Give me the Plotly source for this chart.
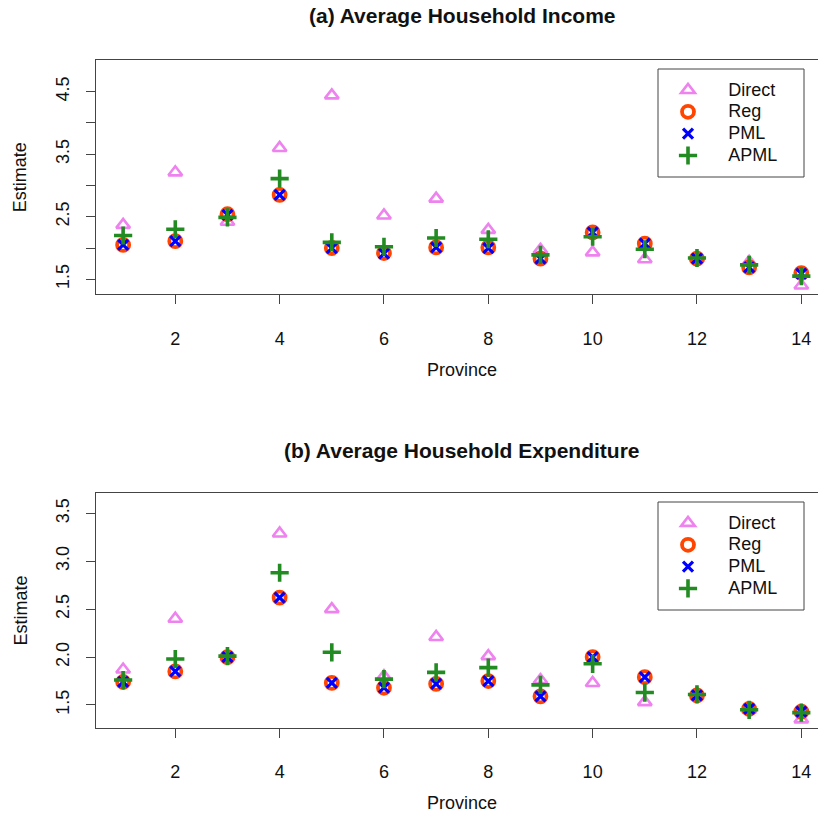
import plotly.graph_objects as go

W, H = 818, 818

province = list(range(1, 15))

inc_direct = [2.37, 3.21, 2.42, 3.60, 4.44, 2.52, 2.79, 2.29, 1.97, 1.93, 1.82, 1.84, 1.78, 1.40]
inc_reg    = [2.05, 2.11, 2.54, 2.85, 2.00, 1.92, 2.01, 2.01, 1.83, 2.25, 2.07, 1.83, 1.69, 1.60]
inc_pml    = [2.05, 2.11, 2.53, 2.85, 2.00, 1.91, 2.01, 2.00, 1.83, 2.25, 2.07, 1.83, 1.69, 1.59]
inc_apml   = [2.20, 2.30, 2.49, 3.11, 2.09, 2.02, 2.16, 2.14, 1.89, 2.18, 1.98, 1.84, 1.73, 1.55]

exp_direct = [1.87, 2.40, 2.00, 3.29, 2.50, 1.80, 2.21, 2.01, 1.76, 1.73, 1.53, 1.62, 1.45, 1.35]
exp_reg    = [1.74, 1.85, 2.00, 2.62, 1.73, 1.68, 1.72, 1.75, 1.59, 2.00, 1.79, 1.60, 1.46, 1.43]
exp_pml    = [1.74, 1.85, 2.00, 2.62, 1.73, 1.68, 1.72, 1.75, 1.59, 2.00, 1.79, 1.60, 1.46, 1.43]
exp_apml   = [1.76, 1.98, 2.01, 2.88, 2.05, 1.77, 1.84, 1.89, 1.71, 1.93, 1.63, 1.61, 1.45, 1.42]

x_ticks = [2, 4, 6, 8, 10, 12, 14]
inc_yticks = [1.5, 2.0, 2.5, 3.0, 3.5, 4.0, 4.5]
inc_yticktext = ["1.5", "", "2.5", "", "3.5", "", "4.5"]
exp_yticks = [1.5, 2.0, 2.5, 3.0, 3.5]
exp_yticktext = ["1.5", "2.0", "2.5", "3.0", "3.5"]

series_names = ["Direct", "Reg", "PML", "APML"]

FONT = "Liberation Sans, Arial, sans-serif"

styles = {
    "Direct": dict(symbol="triangle-up-open", color="#EE82EE", size=12, lw=2.6),
    "Reg": dict(symbol="circle-open", color="#FF4500", size=12, lw=3.8),
    "PML": dict(symbol="x-thin-open", color="#0000FF", size=10, lw=3.2),
    "APML": dict(symbol="cross-thin-open", color="#228B22", size=13, lw=3.6),
}

def px2x(px):
    return px / W

def px2y(py):
    return 1 - py / H

fig = go.Figure()

panels = [
    ("x", "y", "legend", [inc_direct, inc_reg, inc_pml, inc_apml]),
    ("x2", "y2", "legend2", [exp_direct, exp_reg, exp_pml, exp_apml]),
]

for xa, ya, lg, vals in panels:
    for name, v in zip(series_names, vals):
        s = styles[name]
        fig.add_trace(go.Scatter(
            x=province, y=v, mode="markers", xaxis=xa, yaxis=ya, legend=lg,
            name="\u00a0" * 5 + f"<span style='font-size:18px'>{name}</span>",
            marker=dict(symbol=s["symbol"], size=s["size"], color=s["color"],
                        line=dict(color=s["color"], width=s["lw"])),
            showlegend=True, cliponaxis=False,
        ))

LINEC = "#444444"
axis_common = dict(showgrid=False, zeroline=False, showline=True, linecolor=LINEC, linewidth=1,
                   ticks="outside", ticklen=9, tickcolor=LINEC, tickwidth=1,
                   tickfont=dict(family=FONT, size=18, color="#111111"))

top_a, bot_a = 60, 294.3
top_b, bot_b = 493.3, 727.7
left = 96

fig.update_layout(
    width=W, height=H, margin=dict(l=0, r=0, t=0, b=0),
    paper_bgcolor="white", plot_bgcolor="white",
    xaxis=dict(domain=[px2x(left), 1.0], range=[0.48, 14.32], anchor="y",
               tickmode="array", tickvals=x_ticks, mirror=True, ticklabelstandoff=19, **axis_common),
    yaxis=dict(domain=[px2y(bot_a), px2y(top_a)], range=[1.26, 5.006], anchor="x",
               tickmode="array", tickvals=inc_yticks, ticktext=inc_yticktext, tickangle=-90,
               ticklabelstandoff=10, **axis_common),
    xaxis2=dict(domain=[px2x(left), 1.0], range=[0.48, 14.32], anchor="y2",
                tickmode="array", tickvals=x_ticks, mirror=True, ticklabelstandoff=19, **axis_common),
    yaxis2=dict(domain=[px2y(bot_b), px2y(top_b)], range=[1.263, 3.709], anchor="x2",
                tickmode="array", tickvals=exp_yticks, ticktext=exp_yticktext, tickangle=-90,
                ticklabelstandoff=10, **axis_common),
    legend=dict(x=px2x(668), y=px2y(74), xanchor="left", yanchor="top",
                bgcolor="rgba(0,0,0,0)", borderwidth=0,
                font=dict(family=FONT, size=14.5, color="#111111"), itemclick=False),
    legend2=dict(x=px2x(668), y=px2y(507), xanchor="left", yanchor="top",
                 bgcolor="rgba(0,0,0,0)", borderwidth=0,
                 font=dict(family=FONT, size=14.5, color="#111111"), itemclick=False),
    showlegend=True,
)

shapes = []
for (t, b) in [(69, 177), (502, 610)]:
    shapes.append(dict(type="rect", xref="paper", yref="paper",
                       x0=px2x(658), x1=px2x(804), y0=px2y(b), y1=px2y(t),
                       line=dict(color=LINEC, width=1), fillcolor="rgba(0,0,0,0)"))
fig.update_layout(shapes=shapes)

ann = []
ann.append(dict(text="<b>(a) Average Household Income</b>", x=px2x(462), y=px2y(16),
                xref="paper", yref="paper", showarrow=False, xanchor="center", yanchor="middle",
                font=dict(family=FONT, size=21, color="#111111")))
ann.append(dict(text="<b>(b) Average Household Expenditure</b>", x=px2x(462), y=px2y(450),
                xref="paper", yref="paper", showarrow=False, xanchor="center", yanchor="middle",
                font=dict(family=FONT, size=21, color="#111111")))
for yc in [370, 803]:
    ann.append(dict(text="Province", x=px2x(462), y=px2y(yc), xref="paper", yref="paper",
                    showarrow=False, xanchor="center", yanchor="middle",
                    font=dict(family=FONT, size=18, color="#111111")))
for yc in [(top_a + bot_a) / 2, (top_b + bot_b) / 2]:
    ann.append(dict(text="Estimate", x=px2x(20), y=px2y(yc), xref="paper", yref="paper",
                    showarrow=False, xanchor="center", yanchor="middle", textangle=-90,
                    font=dict(family=FONT, size=18, color="#111111")))
fig.update_layout(annotations=ann)

fig.write_html("out.html", config={"displayModeBar": False},
               post_script="document.body.style.margin='0';document.body.style.overflow='hidden';")
